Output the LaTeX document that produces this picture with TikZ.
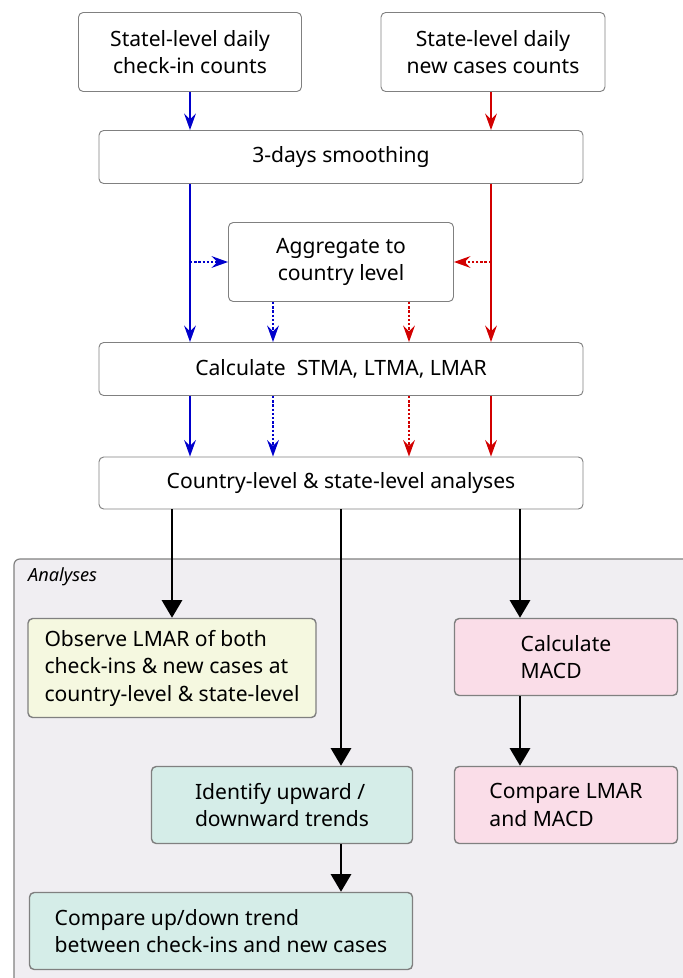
\documentclass[tikz,border=0pt]{standalone}
\usepackage{fontspec}
\setmainfont{Noto Sans}
\usepackage{tikz}
\usetikzlibrary{positioning, arrows.meta}
\definecolor{chkblue}{RGB}{0,0,204}
\definecolor{casered}{RGB}{210,0,0}
\definecolor{boxline}{RGB}{128,128,128}
\definecolor{groupbg}{RGB}{240,238,242}
\definecolor{obsfill}{RGB}{245,248,224}
\definecolor{trendfill}{RGB}{213,237,232}
\definecolor{macdfill}{RGB}{250,221,232}

\begin{document}
\begin{tikzpicture}[x=0.03cm, y=-0.03cm, >=Stealth,
    step box/.style={draw=boxline, line width=0.8pt, rounded corners=4pt, fill=white, align=center, font=\fontsize{18}{23.5}\selectfont, inner sep=0pt},
    ana box/.style={step box, align=left, line width=1.2pt},
    chk/.style={chkblue, line width=1.6pt, -{Stealth[length=14pt, width=10pt, inset=5pt]}},
    cas/.style={casered, line width=1.6pt, -{Stealth[length=14pt, width=10pt, inset=5pt]}},
    agg/.style={dash pattern=on 2pt off 1.6pt},
    flow/.style={black, line width=2.4pt, -{Triangle[length=15pt, width=17pt]}}]

    \clip (0,0) rectangle (683,978);

    % Analyses group
    \draw[boxline, line width=1pt, fill=groupbg, rounded corners=5pt] (14,559) rectangle (720,1010);
    \node[anchor=west, font=\fontsize{15.5}{18}\selectfont\itshape] (grouplabel) at (24,577) {Analyses};

    % input counts
    \node[step box, minimum width=6.69cm, minimum height=2.37cm] (chkin) at (190,52) {Statel-level daily\\check-in counts};
    \node[step box, minimum width=6.72cm, minimum height=2.37cm] (cases) at (493,52) {State-level daily\\new cases counts};

    % processing steps
    \node[step box, minimum width=14.52cm, minimum height=1.59cm] (smooth) at (341,157) {3-days smoothing};
    \node[step box, minimum width=6.75cm, minimum height=2.37cm] (aggr) at (341,262) {Aggregate to\\country level};
    \node[step box, minimum width=14.52cm, minimum height=1.59cm] (calc) at (341,369) {Calculate\ \ STMA, LTMA, LMAR};
    \node[step box, minimum width=14.52cm, minimum height=1.56cm] (levels) at (341,483) {Country-level \& state-level analyses};

    % analyses
    \node[ana box, fill=obsfill, minimum width=8.64cm, minimum height=2.97cm] (observe) at (172,668) {Observe LMAR of both\\check-ins \& new cases at\\country-level \& state-level};
    \node[ana box, fill=macdfill, minimum width=6.69cm, minimum height=2.31cm] (macd) at (566,657) {Calculate\\MACD};
    \node[ana box, fill=macdfill, minimum width=6.69cm, minimum height=2.31cm] (cmplmar) at (566,805) {Compare LMAR\\and MACD};
    \node[ana box, fill=trendfill, minimum width=7.83cm, minimum height=2.31cm] (trends) at (282,805) {Identify upward /\\downward trends};
    \node[ana box, fill=trendfill, minimum width=11.49cm, minimum height=2.31cm] (updown) at (221,931) {Compare up/down trend\\between check-ins and new cases};

    % helper points on the columns
    \coordinate (bluecol) at (190,262);
    \coordinate (redcol) at (491,262);
    \coordinate (bluedot) at (273,262);
    \coordinate (reddot) at (409,262);
    \coordinate (macdcol) at (520,600);

    % check-in branch (blue)
    \draw[chk] (chkin.south) -- (chkin.south |- smooth.north);
    \draw[chk] (chkin.south |- smooth.south) -- (chkin.south |- calc.north);
    \draw[chk, agg] (bluecol) -- (aggr.west);
    \draw[chk, agg] (bluedot |- aggr.south) -- (bluedot |- calc.north);
    \draw[chk] (chkin.south |- calc.south) -- (chkin.south |- levels.north);
    \draw[chk, agg] (bluedot |- calc.south) -- (bluedot |- levels.north);

    % new cases branch (red)
    \draw[cas] (redcol |- cases.south) -- (redcol |- smooth.north);
    \draw[cas] (redcol |- smooth.south) -- (redcol |- calc.north);
    \draw[cas, agg] (redcol) -- (aggr.east);
    \draw[cas, agg] (reddot |- aggr.south) -- (reddot |- calc.north);
    \draw[cas] (redcol |- calc.south) -- (redcol |- levels.north);
    \draw[cas, agg] (reddot |- calc.south) -- (reddot |- levels.north);

    % into the analyses
    \draw[flow] (observe.north |- levels.south) -- (observe.north);
    \draw[flow] (levels.south) -- (levels.south |- trends.north);
    \draw[flow] (macdcol |- levels.south) -- (macdcol |- macd.north);
    \draw[flow] (macdcol |- macd.south) -- (macdcol |- cmplmar.north);
    \draw[flow] (levels.south |- trends.south) -- (levels.south |- updown.north);

\end{tikzpicture}
\end{document}
